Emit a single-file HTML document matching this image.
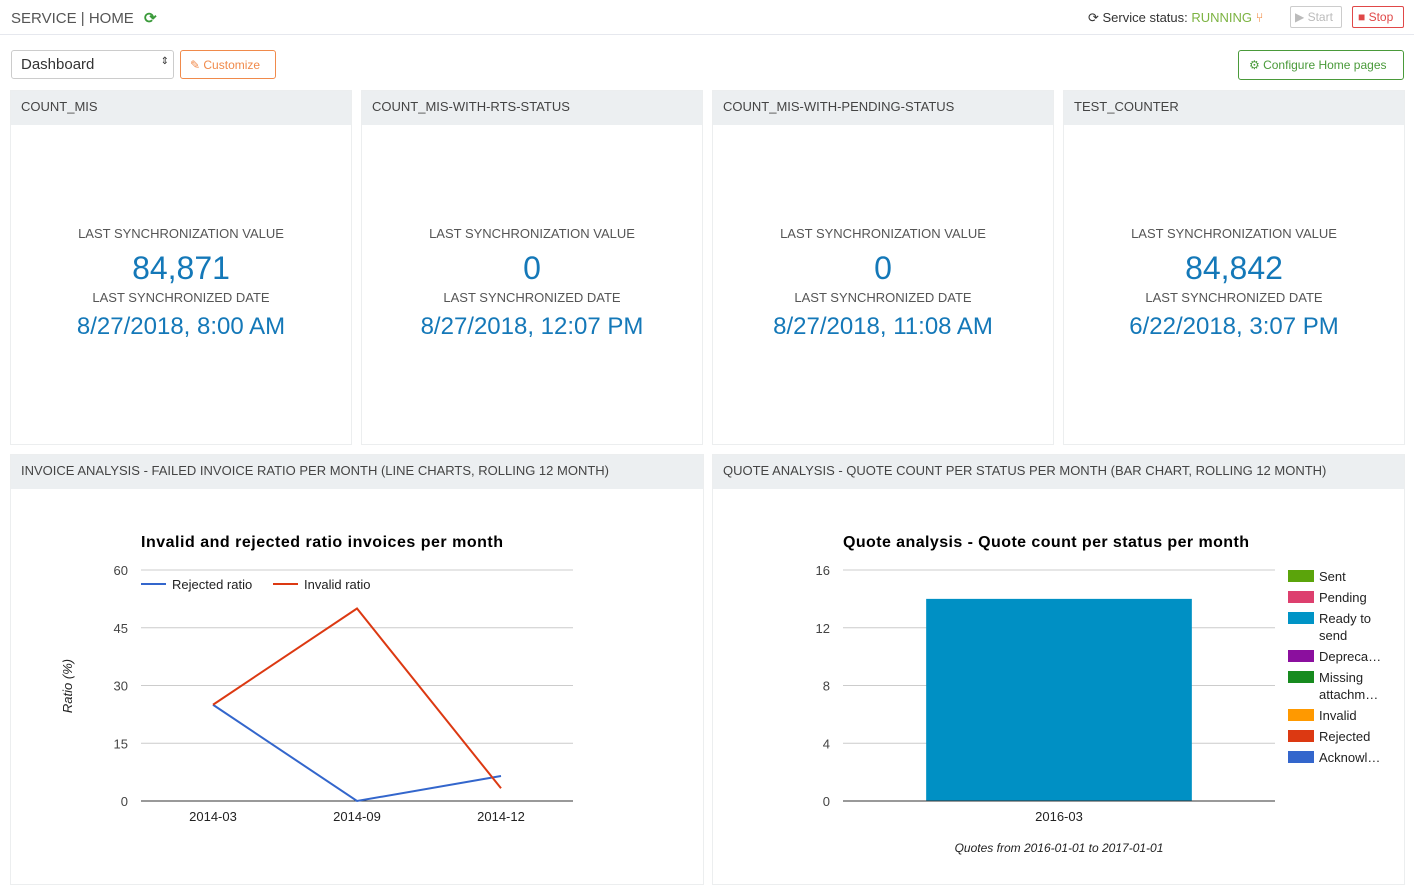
<!DOCTYPE html>
<html><head><meta charset="utf-8"><style>
*{box-sizing:border-box;margin:0;padding:0}
body{width:1414px;height:894px;background:#f5f6f7;font-family:"Liberation Sans",sans-serif;position:relative;overflow:hidden;color:#333}
.top{position:absolute;left:0;top:0;width:1414px;height:35px;background:#fff;border-bottom:1px solid #e6e8ee}
.main{position:absolute;left:0;top:35px;width:1414px;height:859px;background:#fff}
.abs{position:absolute}
.card{position:absolute;background:#fff;border:1px solid #eceeef}
.card .hd{height:34px;background:#eceff1;font-size:13px;color:#444;padding:8px 10px;white-space:nowrap}
.lbl{position:absolute;width:100%;text-align:center;font-size:13px;color:#555}
.big{position:absolute;width:100%;text-align:center;font-size:32px;color:#1478b8}
.dt{position:absolute;width:100%;text-align:center;font-size:24px;color:#1478b8}
svg text{font-family:"Liberation Sans",sans-serif}
</style></head><body>
<div class="top">
 <div class="abs" style="left:11px;top:9px;font-size:15px;color:#555">SERVICE | HOME <span style="color:#3a9a3a;font-weight:bold;margin-left:6px">⟳</span></div>
 <div class="abs" style="left:1088px;top:10px;font-size:13px;color:#333">⟳ Service status: <span style="color:#7cb342">RUNNING</span> <span style="color:#f08030">⑂</span></div>
 <div class="abs" style="left:1290px;top:6px;width:52px;height:22px;border:1px solid #ccc;border-radius:2px;font-size:12px;color:#bbb;padding:3px 4px">▶ Start</div>
 <div class="abs" style="left:1352px;top:6px;width:52px;height:22px;border:1px solid #e04848;border-radius:2px;font-size:12px;color:#e04848;padding:3px 5px">■ Stop</div>
</div>
<div class="main">
 <div class="abs" style="left:11px;top:15px;width:163px;height:29px;border:1px solid #ccc;border-radius:3px;font-size:15px;padding:5px 9px;color:#333">Dashboard<span style="position:absolute;right:4px;top:5px;font-size:10px">⇕</span></div>
 <div class="abs" style="left:180px;top:15px;width:96px;height:29px;border:1px solid #f08a4b;border-radius:3px;font-size:12px;padding:7px 9px;color:#f08a4b">✎ Customize</div>
 <div class="abs" style="left:1238px;top:15px;width:166px;height:30px;border:1px solid #4a9a3a;border-radius:3px;font-size:12px;padding:7px 10px;color:#4a9a3a">⚙ Configure Home pages</div>
</div>
<div id="cards"></div>

<div class="card" style="left:10px;top:454px;width:694px;height:431px">
 <div class="hd">INVOICE ANALYSIS - FAILED INVOICE RATIO PER MONTH (LINE CHARTS, ROLLING 12 MONTH)</div>
</div>
<div class="card" style="left:712px;top:454px;width:693px;height:431px">
 <div class="hd">QUOTE ANALYSIS - QUOTE COUNT PER STATUS PER MONTH (BAR CHART, ROLLING 12 MONTH)</div>
</div>
<svg id="ch" class="abs" style="left:0;top:0" width="1414" height="894"></svg>
<script>
const cardTitles=["COUNT_MIS","COUNT_MIS-WITH-RTS-STATUS","COUNT_MIS-WITH-PENDING-STATUS","TEST_COUNTER"];
const cardValues=["84,871","0","0","84,842"];
const cardDates=["8/27/2018, 8:00 AM","8/27/2018, 12:07 PM","8/27/2018, 11:08 AM","6/22/2018, 3:07 PM"];
const cardX=[10,361,712,1063];
const cc=document.getElementById('cards');
cardTitles.forEach((t,i)=>{
 const d=document.createElement('div');d.className='card';
 
 
 d.style.cssText=`left:${cardX[i]}px;top:90px;width:342px;height:355px`;
 d.innerHTML=`<div class="hd">${t}</div><div class="lbl" style="top:135px">LAST SYNCHRONIZATION VALUE</div><div class="big" style="top:159px">${cardValues[i]}</div><div class="lbl" style="top:199px">LAST SYNCHRONIZED DATE</div><div class="dt" style="top:222px">${cardDates[i]}</div>`;
 cc.appendChild(d);
});

const lineCats=["2014-03","2014-09","2014-12"];
const rejected=[25,0,6.5];
const invalid=[25,50,3.3];
const lineTicks=[0,15,30,45,60];
const barCats=["2016-03"];
const barValues=[14];
const barTicks=[0,4,8,12,16];
const legendNames=["Sent","Pending","Ready to|send","Depreca…","Missing|attachm…","Invalid","Rejected","Acknowl…"];
const legendColors=["#5ba40b","#dd3f6e","#0094c6","#8b0f9e","#178b1f","#ff9900","#dc3912","#3366cc"];

const svg=document.getElementById('ch');const NS='http://www.w3.org/2000/svg';
function el(tag,attrs,name,text){const e=document.createElementNS(NS,tag);for(const k in attrs)e.setAttribute(k,attrs[k]);
 
 
 if(text!==undefined)e.textContent=text;svg.appendChild(e);return e;}

// line chart
const lx0=141,lx1=573,ly0=801,ly1=570;
const ly=v=>ly0-(v/60)*(ly0-ly1);
const lx=i=>lx0+(i+0.5)*(lx1-lx0)/lineCats.length;
el('text',{x:141,y:547,'font-size':16,'font-weight':'bold',fill:'#000',textLength:362},'line-chart-title','Invalid and rejected ratio invoices per month');
lineTicks.forEach(t=>{el('line',{x1:lx0,x2:lx1,y1:ly(t),y2:ly(t),stroke:t?'#ccc':'#333','stroke-width':1},'y-gridline');
 el('text',{x:128,y:ly(t)+5,'font-size':13,fill:'#444','text-anchor':'end'},'y-tick-label',t);});
lineCats.forEach((c,i)=>el('text',{x:lx(i),y:821,'font-size':13,fill:'#222','text-anchor':'middle'},'x-tick-label',c));
el('text',{x:0,y:0,'font-size':13,fill:'#222','font-style':'italic','text-anchor':'middle',transform:'translate(72,686) rotate(-90)'},'y-axis-title','Ratio (%)');
el('polyline',{points:rejected.map((v,i)=>lx(i)+','+ly(v)).join(' '),fill:'none',stroke:'#3366cc','stroke-width':2},'rejected-line');
el('polyline',{points:invalid.map((v,i)=>lx(i)+','+ly(v)).join(' '),fill:'none',stroke:'#dc3912','stroke-width':2},'invalid-line');
el('line',{x1:141,x2:166,y1:584,y2:584,stroke:'#3366cc','stroke-width':2},'legend-rejected-swatch');
el('text',{x:172,y:589,'font-size':13,fill:'#222'},'legend-rejected','Rejected ratio');
el('line',{x1:273,x2:298,y1:584,y2:584,stroke:'#dc3912','stroke-width':2},'legend-invalid-swatch');
el('text',{x:304,y:589,'font-size':13,fill:'#222'},'legend-invalid','Invalid ratio');

// bar chart
const bx0=843,bx1=1275,by0=801,by1=570;
const by=v=>by0-(v/16)*(by0-by1);
const bw=(bx1-bx0)/barCats.length;
el('text',{x:843,y:547,'font-size':16,'font-weight':'bold',fill:'#000',textLength:406},'bar-chart-title','Quote analysis - Quote count per status per month');
barTicks.forEach(t=>{el('line',{x1:bx0,x2:bx1,y1:by(t),y2:by(t),stroke:t?'#ccc':'#333'},'y-gridline');
 el('text',{x:830,y:by(t)+5,'font-size':13,fill:'#444','text-anchor':'end'},'y-tick-label',t);});
barCats.forEach((c,i)=>{const w=bw*0.615,x=bx0+i*bw+(bw-w)/2;
 el('rect',{x:x,y:by(barValues[i]),width:w,height:by0-by(barValues[i]),fill:'#0090c4'},'bar-ready-to-send');
 el('text',{x:bx0+(i+0.5)*bw,y:821,'font-size':13,fill:'#222','text-anchor':'middle'},'x-tick-label',c);});
el('line',{x1:bx0,x2:bx1,y1:by0,y2:by0,stroke:'#333'},'x-axis');
el('text',{x:1059,y:852,'font-size':12,fill:'#222','font-style':'italic','text-anchor':'middle'},'x-axis-title','Quotes from 2016-01-01 to 2017-01-01');
let yy=570;
legendNames.forEach((n,i)=>{const parts=n.split('|');
 el('rect',{x:1288,y:yy,width:26,height:12,fill:legendColors[i]},'legend-swatch');
 parts.forEach((p,j)=>el('text',{x:1319,y:yy+11+j*17,'font-size':13,fill:'#222'},'legend-entry',p));
 yy+=21+(parts.length-1)*17;});
</script>
</body></html>
